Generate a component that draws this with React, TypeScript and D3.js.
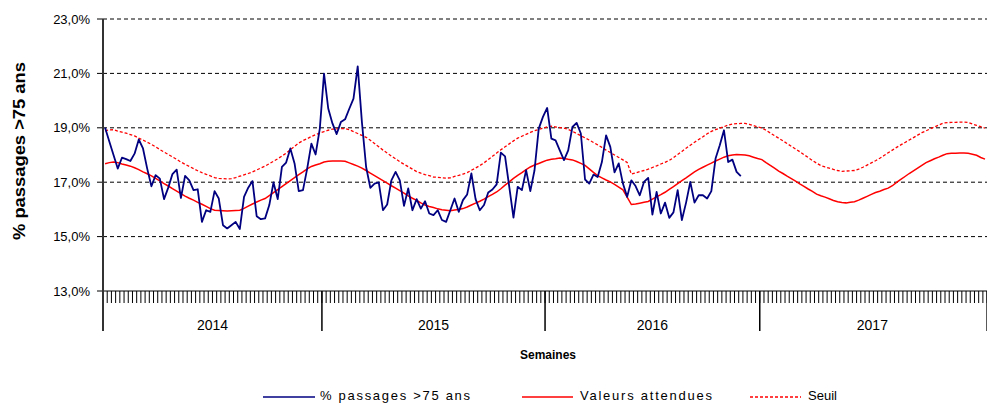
import React from "react";
import * as d3 from "d3";

const years = ["2014", "2015", "2016", "2017"];
const weeksPerYear = [52, 53, 51, 54];
const yTicks = [13, 15, 17, 19, 21, 23];

const observed = [
  19.0, 18.5, 18.0, 17.5, 17.9, 17.85, 17.78, 18.05, 18.57, 18.24,
  17.5, 16.85, 17.26, 17.13, 16.38, 16.8, 17.3, 17.46, 16.42, 17.23,
  17.07, 16.71, 16.74, 15.54, 15.97, 15.91, 16.67, 16.4, 15.42, 15.3,
  15.42, 15.54, 15.28, 16.46, 16.8, 17.04, 15.75, 15.64, 15.67, 16.16,
  16.99, 16.38, 17.56, 17.72, 18.24, 17.69, 16.67, 16.71, 17.5, 18.42,
  18.02, 18.97, 20.99, 19.71, 19.16, 18.77, 19.21, 19.31, 19.7, 20.07,
  21.26, 19.21, 17.56, 16.79, 16.95, 16.99, 15.97, 16.18, 17.07, 17.38,
  17.07, 16.13, 16.77, 15.97, 16.38, 16.03, 16.3, 15.85, 15.79, 15.97,
  15.61, 15.54, 15.97, 16.4, 15.91, 16.34, 16.55, 17.32, 16.38, 15.97,
  16.16, 16.62, 16.73, 16.92, 18.09, 17.95, 16.83, 15.7, 16.83, 16.71,
  17.44, 16.67, 17.44, 18.97, 19.4, 19.73, 18.6, 18.54, 18.17, 17.81,
  18.17, 19.03, 19.18, 18.79, 17.1, 16.95, 17.28, 17.19, 17.74, 18.72,
  18.3, 17.36, 17.69, 16.95, 16.46, 17.07, 16.86, 16.52, 17.01, 17.16,
  15.81, 16.64, 15.85, 16.25, 15.69, 15.89, 16.71, 15.61, 16.25, 17.01,
  16.25, 16.52, 16.52, 16.4, 16.67, 17.87, 18.36, 18.91, 17.74, 17.83,
  17.38, 17.22,
];

const expected = [
  17.68, 17.72, 17.74, 17.72, 17.67, 17.63, 17.59, 17.53, 17.46, 17.38,
  17.31, 17.23, 17.14, 17.05, 16.95, 16.86, 16.76, 16.67, 16.58, 16.49,
  16.41, 16.34, 16.26, 16.19, 16.11, 16.03, 15.97, 15.96, 15.95, 15.94,
  15.95, 15.96, 15.97, 16.04, 16.12, 16.2, 16.27, 16.34, 16.4, 16.51,
  16.62, 16.73, 16.84, 16.95, 17.06, 17.17, 17.28, 17.38, 17.49, 17.58,
  17.63, 17.68, 17.74, 17.77, 17.78, 17.78, 17.78, 17.77, 17.71, 17.65,
  17.59, 17.52, 17.43, 17.33, 17.24, 17.15, 17.06, 16.97, 16.87, 16.78,
  16.69, 16.6, 16.5, 16.41, 16.33, 16.24, 16.16, 16.11, 16.07, 16.02,
  15.99, 15.97, 15.95, 15.98, 16.0, 16.03, 16.09, 16.16, 16.23, 16.3,
  16.38, 16.47, 16.55, 16.64, 16.76, 16.89, 17.01, 17.14, 17.25, 17.35,
  17.46, 17.56, 17.63, 17.69, 17.75, 17.81, 17.84, 17.86, 17.89, 17.87,
  17.84, 17.82, 17.76, 17.69, 17.62, 17.49, 17.36, 17.24, 17.16, 17.08,
  17.01, 16.92, 16.82, 16.72, 16.45, 16.18, 16.2, 16.23, 16.26, 16.29,
  16.38, 16.46, 16.54, 16.63, 16.74, 16.84, 16.95, 17.06, 17.16, 17.27,
  17.38, 17.47, 17.55, 17.63, 17.7, 17.78, 17.85, 17.92, 17.97, 18.0,
  18.02, 18.01, 18.0, 17.97, 17.92, 17.87, 17.83, 17.72, 17.62, 17.52,
  17.41, 17.32, 17.22, 17.13, 17.04, 16.94, 16.85, 16.75, 16.66, 16.56,
  16.5, 16.45, 16.39, 16.33, 16.28, 16.25, 16.24, 16.26, 16.28, 16.34,
  16.41, 16.48, 16.55, 16.62, 16.67, 16.73, 16.78, 16.87, 16.99, 17.1,
  17.21, 17.32, 17.42, 17.52, 17.62, 17.72, 17.79, 17.86, 17.92, 17.99,
  18.05, 18.06, 18.06, 18.07, 18.07, 18.06, 18.03, 17.99, 17.91, 17.85,
];

const threshold = [
  18.89, 18.92, 18.93, 18.88, 18.84, 18.8, 18.75, 18.7, 18.62, 18.55,
  18.47, 18.39, 18.3, 18.2, 18.11, 18.02, 17.93, 17.84, 17.74, 17.66,
  17.58, 17.5, 17.42, 17.35, 17.29, 17.23, 17.17, 17.14, 17.13, 17.12,
  17.13, 17.17, 17.22, 17.27, 17.32, 17.38, 17.45, 17.52, 17.59, 17.68,
  17.77, 17.86, 17.96, 18.07, 18.19, 18.32, 18.44, 18.53, 18.6, 18.68,
  18.75, 18.81, 18.86, 18.91, 18.95, 18.96, 18.97, 18.97, 18.93, 18.86,
  18.79, 18.72, 18.65, 18.54, 18.42, 18.3, 18.18, 18.07, 17.96, 17.86,
  17.75, 17.66, 17.57, 17.48, 17.39, 17.33, 17.28, 17.24, 17.19, 17.18,
  17.16, 17.15, 17.16, 17.21, 17.25, 17.3, 17.35, 17.44, 17.52, 17.61,
  17.71, 17.83, 17.95, 18.07, 18.19, 18.3, 18.41, 18.52, 18.62, 18.69,
  18.76, 18.83, 18.89, 18.94, 18.98, 19.03, 19.06, 19.03, 19.01, 18.99,
  18.94, 18.87, 18.79, 18.71, 18.63, 18.55, 18.46, 18.37, 18.28, 18.18,
  18.09, 18.0, 17.91, 17.82, 17.73, 17.3, 17.34, 17.39, 17.43, 17.48,
  17.54, 17.6, 17.67, 17.73, 17.8, 17.9, 18.02, 18.13, 18.25, 18.36,
  18.47, 18.57, 18.67, 18.78, 18.87, 18.93, 18.99, 19.04, 19.1, 19.14,
  19.15, 19.16, 19.16, 19.13, 19.08, 19.03, 18.99, 18.91, 18.81, 18.71,
  18.62, 18.52, 18.42, 18.32, 18.22, 18.12, 18.01, 17.91, 17.8, 17.7,
  17.61, 17.56, 17.52, 17.47, 17.43, 17.4, 17.41, 17.42, 17.43, 17.48,
  17.55, 17.63, 17.71, 17.79, 17.88, 17.98, 18.08, 18.18, 18.28, 18.37,
  18.46, 18.55, 18.64, 18.73, 18.82, 18.89, 18.96, 19.03, 19.1, 19.17,
  19.19, 19.2, 19.2, 19.21, 19.21, 19.2, 19.14, 19.09, 19.04, 18.99,
];

const W = 987;
const H = 403;
const totalWeeks = weeksPerYear.reduce((a, b) => a + b, 0);

export default function App() {
  const x = d3.scaleLinear().domain([0, totalWeeks]).range([103, 987.1]);
  const y = d3.scaleLinear().domain([13, 23]).range([291, 19]);

  const line = d3
    .line<number>()
    .x((_, i) => x(i + 0.5))
    .y((d) => y(d));

  const boundaries: number[] = [0];
  weeksPerYear.forEach((n, i) => boundaries.push(boundaries[i] + n));

  const weekTicks = d3.range(0, totalWeeks + 1);
  const font = "Liberation Sans, Arial, sans-serif";

  return (
    <svg
      width={W}
      height={H}
      style={{ position: "absolute", left: 0, top: 0, background: "#fff" }}
      fontFamily={font}
    >
      <defs>
        <clipPath id="plot">
          <rect x={103} y={0} width={W - 103} height={300} />
        </clipPath>
      </defs>

      {yTicks
        .filter((t) => t !== 13)
        .map((t) => (
          <line
            key={t}
            x1={103}
            x2={W}
            y1={y(t)}
            y2={y(t)}
            stroke="#000"
            strokeWidth={1}
            strokeDasharray="4,3"
          />
        ))}

      {yTicks.map((t) => (
        <g key={"yt" + t}>
          <line x1={97} x2={103} y1={y(t)} y2={y(t)} stroke="#000" />
          <text
            x={90}
            y={y(t)}
            dy="0.35em"
            textAnchor="end"
            fontSize={13}
            fill="#000"
          >
            {t.toFixed(1).replace(".", ",") + "%"}
          </text>
        </g>
      ))}

      <line x1={103} x2={W} y1={y(13)} y2={y(13)} stroke="#000" strokeWidth={1} />

      {weekTicks.map((k) => (
        <line
          key={"wk" + k}
          x1={x(k)}
          x2={x(k)}
          y1={y(13)}
          y2={y(13) + 12}
          stroke="#000"
          strokeWidth={1}
        />
      ))}

      {boundaries.map((b, i) => (
        <line
          key={"yd" + i}
          x1={x(b)}
          x2={x(b)}
          y1={y(13)}
          y2={331}
          stroke="#000"
          strokeWidth={1.5}
        />
      ))}

      <line x1={103} x2={103} y1={19} y2={331} stroke="#333" strokeWidth={2} />

      {years.map((yr, i) => (
        <text
          key={yr}
          x={(x(boundaries[i]) + Math.min(x(boundaries[i + 1]), 985)) / 2}
          y={330}
          textAnchor="middle"
          fontSize={14}
          fill="#000"
        >
          {yr}
        </text>
      ))}

      <g clipPath="url(#plot)">
        <path d={line(threshold) || ""} fill="none" stroke="#ff0000" strokeWidth={1.3} strokeDasharray="3,2" />
        <path d={line(expected) || ""} fill="none" stroke="#ff0000" strokeWidth={1.5} />
        <path d={line(observed) || ""} fill="none" stroke="#000080" strokeWidth={1.8} strokeLinejoin="round" />
      </g>

      <text
        transform="translate(25,151) rotate(-90)"
        textAnchor="middle"
        fontSize={16}
        fontWeight="bold"
        fill="#000"
        textLength={178}
        lengthAdjust="spacingAndGlyphs"
      >
        % passages &gt;75 ans
      </text>
      <text x={548} y={359} textAnchor="middle" fontSize={12} fontWeight="bold" fill="#000">
        Semaines
      </text>

      <line x1={263} x2={315} y1={397} y2={397} stroke="#000080" strokeWidth={1.5} />
      <text x={320} y={400} fontSize={13} fill="#000" textLength={150} lengthAdjust="spacing">
        % passages &gt;75 ans
      </text>
      <line x1={522} x2={573} y1={397} y2={397} stroke="#ff0000" strokeWidth={1.5} />
      <text x={580} y={400} fontSize={13} fill="#000" textLength={132} lengthAdjust="spacing">
        Valeurs attendues
      </text>
      <line x1={750} x2={801} y1={397} y2={397} stroke="#ff0000" strokeWidth={1.3} strokeDasharray="3,2" />
      <text x={808} y={400} fontSize={13} fill="#000">
        Seuil
      </text>
    </svg>
  );
}
